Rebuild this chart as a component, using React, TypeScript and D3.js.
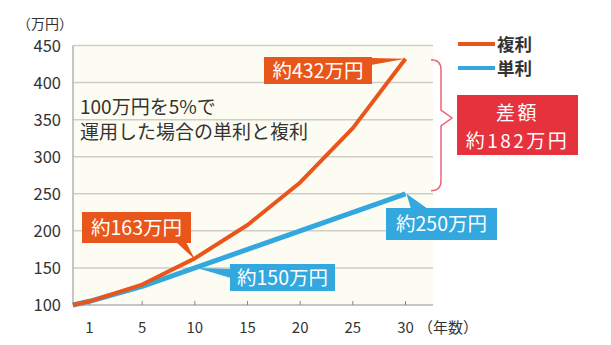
import React from "react";
import * as d3 from "d3";

const years = [0, 1, 5, 10, 15, 20, 25, 30];
const tickLabels = ["1", "5", "10", "15", "20", "25", "30"];
const compound = [100, 105, 127.6, 162.9, 207.9, 265.3, 338.6, 432.2];
const simple = [100, 105, 125, 150, 175, 200, 225, 250];
const yTicks = [100, 150, 200, 250, 300, 350, 400, 450];
const seriesNames = ["複利", "単利"];
const callouts = ["約432万円", "約163万円", "約150万円", "約250万円"];
const diffLabel = ["差額", "約182万円"];
const note = ["100万円を5%で", "運用した場合の単利と複利"];

const ORANGE = "#e9561b";
const BLUE = "#33a8df";
const RED = "#e5323d";
const FONT = "'Noto Sans CJK JP', 'Noto Sans', sans-serif";

export default function App() {
  const W = 611, H = 345;
  const left = 73, right = 433, top = 45.5, bottom = 305;
  const xp = d3.scalePoint<string>().domain(tickLabels).range([89.5, 405.5]);
  const xPos = (yr: number) => (yr === 0 ? left : (xp(String(yr)) as number));
  const y = d3.scaleLinear().domain([100, 450]).range([bottom, top]);
  const line = d3
    .line<number>()
    .x((_, i) => xPos(years[i]))
    .y((d) => y(d));

  const pEndC = [xPos(30), y(compound[7])];
  const p10C = [xPos(10), y(compound[3])];
  const p10S = [xPos(10), y(simple[3])];
  const pEndS = [xPos(30), y(simple[7])];

  const callout = (
    box: [number, number, number, number],
    wedge: [number, number, number, number],
    tip: number[],
    color: string,
    text: string,
    key: string
  ) => {
    const [bx, by, bw, bh] = box;
    return (
      <g key={key}>
        <path d={`M${wedge[0]},${wedge[1]}L${tip[0]},${tip[1]}L${wedge[2]},${wedge[3]}Z`} fill={color} />
        <rect x={bx} y={by} width={bw} height={bh} fill={color} />
        <text
          x={bx + bw / 2}
          y={by + bh / 2 + 7}
          textAnchor="middle"
          fill="#fff"
          fontSize={19.5}
          fontFamily={FONT}
        >
          {text}
        </text>
      </g>
    );
  };

  const bTop = y(compound[7]) + 1;
  const bBot = y(simple[7]) - 3;
  const bMid = 118;
  const bx0 = 431, bx1 = 441, bTip = 452;

  return (
    <svg width={W} height={H} style={{ position: "absolute", left: 0, top: 0 }} fontFamily={FONT}>
      <rect x={0} y={0} width={W} height={H} fill="#fff" />
      <rect x={left} y={top} width={right - left} height={bottom - top} fill="#fdfcf2" />
      {yTicks.map((t) => (
        <g key={t}>
          {t > 100 && <line x1={left} x2={right} y1={y(t)} y2={y(t)} stroke="#cfcdc8" strokeWidth={1.5} />}
          <text x={61} y={y(t) + 6} textAnchor="end" fontSize={16.5} fill="#333">
            {t}
          </text>
        </g>
      ))}
      <line x1={left} x2={left} y1={top} y2={bottom} stroke="#b5b3ae" strokeWidth={1.5} />
      <line x1={left} x2={right} y1={bottom} y2={bottom} stroke="#b5b3ae" strokeWidth={1.5} />
      {tickLabels.map((t) => (
        <g key={t}>
          <line x1={xp(t)} x2={xp(t)} y1={bottom} y2={bottom - 4} stroke="#888" strokeWidth={1} />
          <text x={xp(t)} y={332.5} textAnchor="middle" fontSize={15} fill="#333">
            {t}
          </text>
        </g>
      ))}
      <text x={418} y={332.5} fontSize={15} fill="#333">（年数）</text>
      <text x={17} y={29} fontSize={14} fill="#333">（万円）</text>

      <path d={line(simple) || ""} fill="none" stroke={BLUE} strokeWidth={5} strokeLinejoin="round" />
      <path d={line(compound) || ""} fill="none" stroke={ORANGE} strokeWidth={4} strokeLinejoin="round" />

      <text x={80} y={114} fontSize={19} fill="#333">{note[0]}</text>
      <text x={80} y={139} fontSize={19} fill="#333">{note[1]}</text>

      {callout([264, 57, 108, 27], [371, 58, 371, 65], pEndC, ORANGE, callouts[0], "c0")}
      {callout([82, 212, 109, 31], [176, 242, 186, 242], [p10C[0], p10C[1] + 1], ORANGE, callouts[1], "c1")}
      {callout([230, 264, 105, 27], [231, 269, 231, 278], [p10S[0] + 2, p10S[1]], BLUE, callouts[2], "c2")}
      {callout([386, 208, 111, 32], [411, 209, 428, 209], [pEndS[0] + 1, pEndS[1]], BLUE, callouts[3], "c3")}

      <path
        d={`M${bx0},${bTop}Q${bx1},${bTop} ${bx1},${bTop + 10}L${bx1},${bMid - 8}L${bTip},${bMid}L${bx1},${bMid + 8}L${bx1},${bBot - 10}Q${bx1},${bBot} ${bx0},${bBot}`}
        fill="none"
        stroke="#ee6476"
        strokeWidth={1.5}
      />
      <rect x={457} y={95} width={121} height={60} fill={RED} />
      <text x={517.5} y={119.5} textAnchor="middle" fontSize={19} letterSpacing={2.5} fill="#fff">{diffLabel[0]}</text>
      <text x={517.5} y={147.5} textAnchor="middle" fontSize={19} letterSpacing={2.5} fill="#fff">{diffLabel[1]}</text>

      <line x1={458} x2={495} y1={44} y2={44} stroke={ORANGE} strokeWidth={4} />
      <text x={497} y={50.5} fontSize={17.5} fill="#333" fontWeight="bold">{seriesNames[0]}</text>
      <line x1={458} x2={495} y1={68} y2={68} stroke={BLUE} strokeWidth={4} />
      <text x={497} y={74.5} fontSize={17.5} fill="#333" fontWeight="bold">{seriesNames[1]}</text>
    </svg>
  );
}
